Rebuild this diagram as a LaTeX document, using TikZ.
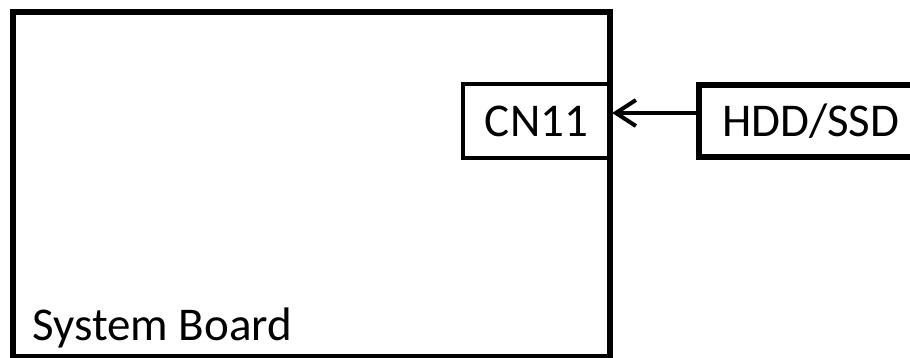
\documentclass[tikz,border=0pt]{standalone}
\usepackage{fontspec}
\setmainfont{Carlito}
\usetikzlibrary{arrows.meta}
\begin{document}
\begin{tikzpicture}
[x=0.5pt,y=-0.5pt,
  boxdecorate/.style={shape=rectangle,inner sep=0pt,draw,line width=2.8pt,font=\fontsize{23.5}{28}\selectfont},%
  portdecorate/.style={boxdecorate,line width=2.2pt},%
  arrowdecorate/.style={-{Straight Barb[length=10pt,width=13pt,line width=2pt]},line width=2.2pt}]
\clip (0,0) rectangle (910,358);
%% boxes
\node (board) at (311.5,184.5) [boxdecorate,minimum width=298.5pt,minimum height=172.5pt] {};
\node (cn) at (536.5,121) [portdecorate,minimum width=73.5pt,minimum height=37pt] {CN11};
\node (hdd) at (696,121) [boxdecorate,line width=3pt,anchor=west,minimum height=36pt,
  inner xsep=11.5pt,text width=100pt,align=left] {HDD/SSD};
%% label
\node (boardlabel) at (32,340) [anchor=base west,inner sep=0pt,font=\fontsize{23.5}{28}\selectfont] {System Board};
%% connector
\draw[arrowdecorate] ([yshift=4pt]hdd.west) -- ([yshift=4pt]cn.east);
\end{tikzpicture}
\end{document}
